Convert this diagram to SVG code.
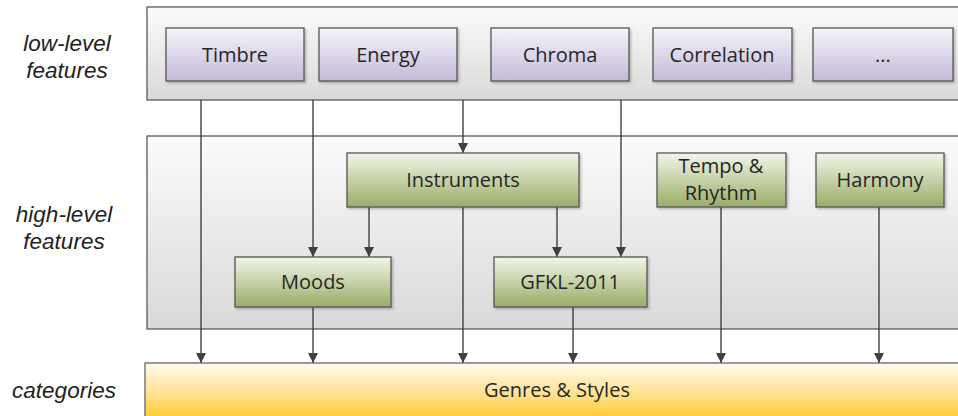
<svg xmlns="http://www.w3.org/2000/svg" width="958" height="416" viewBox="0 0 958 416">
  <defs>
    <linearGradient id="gPanel" x1="0" y1="0" x2="0" y2="1">
      <stop offset="0" stop-color="#fbfbfb"/>
      <stop offset="1" stop-color="#d9d9d9"/>
    </linearGradient>
    <linearGradient id="gLow" x1="0" y1="0" x2="0" y2="1">
      <stop offset="0" stop-color="#f6f4fa"/>
      <stop offset="1" stop-color="#c4bad8"/>
    </linearGradient>
    <linearGradient id="gHigh" x1="0" y1="0" x2="0" y2="1">
      <stop offset="0" stop-color="#f2f6e9"/>
      <stop offset="1" stop-color="#98ad66"/>
    </linearGradient>
    <linearGradient id="gCat" x1="0" y1="0" x2="0" y2="1">
      <stop offset="0" stop-color="#fffcf0"/>
      <stop offset="0.55" stop-color="#ffe08a"/>
      <stop offset="1" stop-color="#ffc61a"/>
    </linearGradient>
    <marker id="arrow" viewBox="0 0 10 10" refX="10" refY="5" markerWidth="10" markerHeight="10" markerUnits="userSpaceOnUse" orient="auto">
      <path d="M0,0 L10,5 L0,10 Z" fill="#404040"/>
    </marker>
    <filter id="shadow" x="-5%" y="-5%" width="115%" height="130%">
      <feDropShadow dx="1.5" dy="1.5" stdDeviation="1" flood-color="#000" flood-opacity="0.25"/>
    </filter>
  </defs>
  <style>
    .panel { fill: url(#gPanel); stroke: #5a5a5a; stroke-width: 1.3; }
    .low { fill: url(#gLow); stroke: #555; stroke-width: 1.3; filter: url(#shadow); }
    .high { fill: url(#gHigh); stroke: #555; stroke-width: 1.3; filter: url(#shadow); }
    .cat { fill: url(#gCat); stroke: #666; stroke-width: 1.3; }
    .lbl { font-family: "Open Sans", "Noto Sans", "Liberation Sans", sans-serif; font-size: 20px; fill: #262626; text-anchor: middle; }
    .side { font-family: "Liberation Sans", Arial, sans-serif; font-style: italic; font-size: 22.5px; fill: #222; text-anchor: middle; }
    .conn { stroke: #404040; stroke-width: 1.4; fill: none; }
  </style>

  <rect width="958" height="416" fill="#ffffff"/>

  <!-- layer labels -->
  <g id="side-labels">
    <text class="side" x="67" y="51">low-level</text>
    <text class="side" x="67" y="78">features</text>
    <text class="side" x="64" y="222">high-level</text>
    <text class="side" x="64" y="249">features</text>
    <text class="side" x="64" y="398">categories</text>
  </g>

  <!-- layer panels -->
  <g id="panels">
    <rect class="panel" x="147" y="7" width="820" height="93"/>
    <rect class="panel" x="147" y="136" width="820" height="193"/>
  </g>

  <g id="genres">
    <rect class="cat" x="145" y="363" width="830" height="60"/>
    <text class="lbl" x="557" y="397">Genres &amp; Styles</text>
  </g>

  <!-- connectors -->
  <g id="connectors">
    <line class="conn" x1="201" y1="100" x2="201" y2="363" marker-end="url(#arrow)"/>
    <line class="conn" x1="313" y1="100" x2="313" y2="257" marker-end="url(#arrow)"/>
    <line class="conn" x1="463" y1="100" x2="463" y2="153" marker-end="url(#arrow)"/>
    <line class="conn" x1="621" y1="100" x2="621" y2="257" marker-end="url(#arrow)"/>
    <line class="conn" x1="369" y1="207" x2="369" y2="257" marker-end="url(#arrow)"/>
    <line class="conn" x1="557" y1="207" x2="557" y2="257" marker-end="url(#arrow)"/>
    <line class="conn" x1="463" y1="207" x2="463" y2="363" marker-end="url(#arrow)"/>
    <line class="conn" x1="313" y1="307" x2="313" y2="363" marker-end="url(#arrow)"/>
    <line class="conn" x1="573" y1="307" x2="573" y2="363" marker-end="url(#arrow)"/>
    <line class="conn" x1="721" y1="207" x2="721" y2="363" marker-end="url(#arrow)"/>
    <line class="conn" x1="879" y1="207" x2="879" y2="363" marker-end="url(#arrow)"/>
  </g>

  <!-- low-level features -->
  <g id="timbre">
    <rect class="low" x="166" y="28" width="138" height="53"/>
    <text class="lbl" x="235" y="62">Timbre</text>
  </g>
  <g id="energy">
    <rect class="low" x="319" y="28" width="138" height="53"/>
    <text class="lbl" x="388" y="62">Energy</text>
  </g>
  <g id="chroma">
    <rect class="low" x="491" y="28" width="138" height="53"/>
    <text class="lbl" x="560" y="62">Chroma</text>
  </g>
  <g id="correlation">
    <rect class="low" x="653" y="28" width="139" height="53"/>
    <text class="lbl" x="722" y="62">Correlation</text>
  </g>
  <g id="more">
    <rect class="low" x="813" y="28" width="140" height="53"/>
    <text class="lbl" x="883" y="62">...</text>
  </g>

  <!-- high-level features -->
  <g id="instruments">
    <rect class="high" x="347" y="153" width="232" height="54"/>
    <text class="lbl" x="463" y="187">Instruments</text>
  </g>
  <g id="tempo-rhythm">
    <rect class="high" x="657" y="153" width="129" height="54"/>
    <text class="lbl" x="721" y="173">Tempo &amp;</text>
    <text class="lbl" x="721" y="200">Rhythm</text>
  </g>
  <g id="harmony">
    <rect class="high" x="816" y="153" width="128" height="54"/>
    <text class="lbl" x="880" y="187">Harmony</text>
  </g>
  <g id="moods">
    <rect class="high" x="235" y="257" width="156" height="50"/>
    <text class="lbl" x="313" y="289">Moods</text>
  </g>
  <g id="gfkl-2011">
    <rect class="high" x="494" y="257" width="153" height="50"/>
    <text class="lbl" x="570" y="289">GFKL-2011</text>
  </g>
</svg>
